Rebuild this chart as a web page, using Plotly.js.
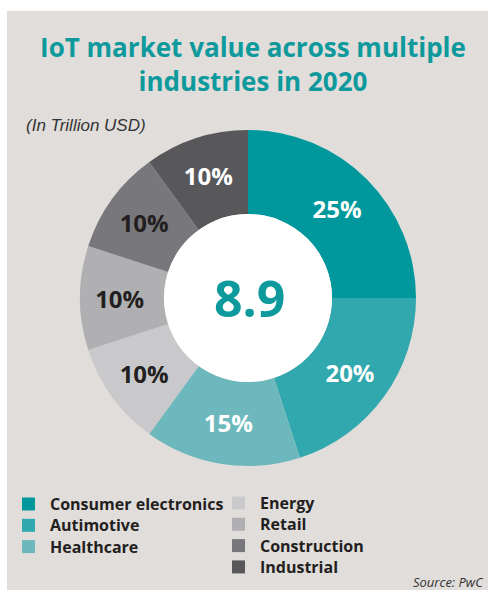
<!DOCTYPE html>
<html>
<head>
<meta charset="utf-8">
<script src="https://cdn.plot.ly/plotly-3.0.1.min.js"></script>
<style>html,body{margin:0;padding:0;background:#fff}#chart{width:488px;height:590px}</style>
</head>
<body>
<div id="chart"></div>
<script>
const categories = ["Consumer electronics", "Autimotive", "Healthcare", "Energy", "Retail", "Construction", "Industrial"];
const shares = [25, 20, 15, 10, 10, 10, 10];
const sliceColors = ["#00989c", "#30a8ae", "#6db8bd", "#c9c9cb", "#b0b0b3", "#78787c", "#58585b"];
const labelColors = ["#ffffff", "#ffffff", "#ffffff", "#231f20", "#231f20", "#231f20", "#ffffff"];
const totalValue = "8.9";
const titleText = "IoT market value across multiple<br>industries in 2020";
const unitText = "(In Trillion USD)";
const sourceText = "Source: PwC";

const W = 488, H = 590;
const teal = "#0e9a9c";
const cx = 248, cy = 298, R = 168;
const dom = {x: [(cx - R) / W, (cx + R) / W], y: [(H - cy - R) / H, (H - cy + R) / H]};
const domHole = {x: [(cx - R / 2) / W, (cx + R / 2) / W], y: [(H - cy - R / 2) / H, (H - cy + R / 2) / H]};

const donut = {
  type: "pie",
  labels: categories,
  values: shares,
  sort: false,
  direction: "clockwise",
  rotation: 0,
  hole: 0.5,
  domain: dom,
  marker: {colors: sliceColors, line: {width: 0}},
  texttemplate: "%{percent:.0%}",
  textposition: "inside",
  insidetextorientation: "horizontal",
  insidetextfont: {family: "Open Sans", size: 24, color: labelColors, weight: "bold"},
  showlegend: false,
  hoverinfo: "label+value"
};
const centre = {
  type: "pie",
  labels: ["total"],
  values: [1],
  domain: domHole,
  marker: {colors: ["#ffffff"], line: {width: 0}},
  textinfo: "none",
  showlegend: false,
  hoverinfo: "skip",
  sort: false
};

// legend built from the data arrays
const shapes = [{type: "rect", xref: "paper", yref: "paper", x0: 7 / W, x1: 1, y0: 0, y1: (H - 11) / H,
  fillcolor: "#e1dddb", line: {width: 0}, layer: "below"}];
const annotations = [];
const colX = [22, 232];
const rowY0 = 504, rowStep = 21.3;
categories.forEach((c, i) => {
  const col = i < 3 ? 0 : 1;
  const row = i < 3 ? i : i - 3;
  const yc = rowY0 + row * rowStep - (col === 1 ? 1 : 0);
  shapes.push({type: "rect", xref: "paper", yref: "paper",
    x0: colX[col] / W, x1: (colX[col] + 13) / W,
    y0: (H - yc - 6.5) / H, y1: (H - yc + 6.5) / H,
    fillcolor: sliceColors[i], line: {width: 0}});
  annotations.push({xref: "paper", yref: "paper", x: (colX[col] + 26) / W, y: (H - yc) / H,
    xanchor: "left", yanchor: "middle", showarrow: false, text: c,
    font: {family: "Open Sans", size: 16, color: "#231f20", weight: "bold"}});
});
annotations.push({xref: "paper", yref: "paper", x: (cx + 2) / W, y: (H - cy) / H, xanchor: "center", yanchor: "middle",
  showarrow: false, text: totalValue, font: {family: "Open Sans", size: 50, color: teal, weight: "bold"}});
annotations.push({xref: "paper", yref: "paper", x: 24 / W, y: (H - 125) / H, xanchor: "left", yanchor: "middle",
  showarrow: false, text: "<i>" + unitText + "</i>", font: {family: "Liberation Sans", size: 17, color: "#333333"}});
annotations.push({xref: "paper", yref: "paper", x: 486 / W, y: (H - 582) / H, xanchor: "right", yanchor: "middle",
  showarrow: false, text: "<i>" + sourceText + "</i>", font: {family: "Open Sans", size: 13, color: "#333333"}});

const layout = {
  width: W, height: H,
  margin: {l: 0, r: 0, t: 0, b: 0},
  paper_bgcolor: "#ffffff",
  title: {text: titleText, x: 253 / W, xanchor: "center", y: (H - 57) / H, yanchor: "top",
    font: {family: "Open Sans", size: 26, color: teal, weight: "bold"}},
  shapes: shapes,
  annotations: annotations,
  showlegend: false
};
Plotly.newPlot("chart", [donut, centre], layout, {displayModeBar: false, staticPlot: true});
</script>
</body>
</html>
